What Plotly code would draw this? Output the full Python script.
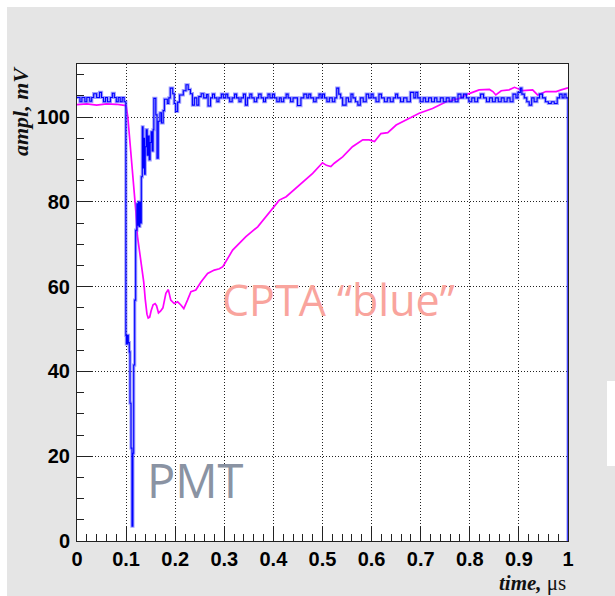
import plotly.graph_objects as go

# ---- CPTA "blue" signal (smooth trace), time in µs, amplitude in mV ----
cpta_t = [0.0, 0.02, 0.04, 0.06, 0.08, 0.100, 0.1035, 0.107, 0.110, 0.1135, 0.117,
          0.120, 0.123, 0.127, 0.131, 0.136, 0.139, 0.1425, 0.145, 0.148, 0.151,
          0.155, 0.159, 0.162, 0.166, 0.170, 0.175, 0.181, 0.186, 0.191, 0.198,
          0.205, 0.212, 0.2175, 0.225, 0.232, 0.242, 0.2525, 0.266, 0.2796, 0.290,
          0.297, 0.317, 0.344, 0.368, 0.388, 0.412, 0.426, 0.449, 0.480, 0.500,
          0.508, 0.517, 0.524, 0.541, 0.561, 0.582, 0.595, 0.606, 0.619, 0.633,
          0.650, 0.677, 0.697, 0.724, 0.752, 0.779, 0.796, 0.819, 0.840, 0.847,
          0.853, 0.864, 0.880, 0.891, 0.908, 0.928, 0.938, 0.955, 0.976, 0.986,
          0.996, 1.0]
cpta_v = [102.9, 103.1, 102.8, 103.1, 103.0, 102.7, 100.0, 95.5, 91.0, 87.0, 82.0,
          77.5, 72.0, 68.5, 65.5, 61.0, 57.0, 53.5, 52.6, 52.8, 54.3,
          55.7, 56.0, 55.5, 53.8, 54.2, 55.0, 58.4, 59.3, 56.8, 56.0,
          56.4, 55.6, 54.8, 56.8, 58.8, 59.2, 61.1, 63.1, 63.9, 64.2,
          64.7, 68.6, 71.8, 74.1, 76.9, 80.4, 81.2, 83.6, 86.7, 89.2,
          88.6, 88.3, 89.1, 90.6, 93.0, 94.6, 94.6, 94.2, 96.1, 96.3,
          98.1, 99.7, 100.9, 102.0, 103.6, 104.4, 105.4, 106.4, 106.5, 106.0,
          105.2, 106.2, 106.4, 107.0, 106.2, 106.4, 105.2, 106.0, 106.0, 106.4,
          106.8, 106.9]

# ---- PMT signal (histogram steps: bin start time, level) ----
pmt_t = [0.0, 0.006, 0.010, 0.016, 0.020, 0.026, 0.030, 0.034, 0.040, 0.046, 0.050,
         0.054, 0.058, 0.062, 0.068, 0.072, 0.076, 0.080, 0.084, 0.088, 0.092, 0.096,
         0.0995, 0.1005, 0.1015, 0.1025, 0.1035, 0.1045, 0.1065, 0.108, 0.110, 0.112,
         0.1138, 0.1155, 0.1175, 0.1195, 0.122, 0.1235, 0.125, 0.1265, 0.128, 0.1295,
         0.131, 0.133, 0.1345, 0.136, 0.1375, 0.139, 0.141, 0.143, 0.145, 0.147,
         0.149, 0.151, 0.153, 0.155, 0.1565, 0.1605, 0.163, 0.1655, 0.169, 0.172,
         0.1755, 0.178, 0.184, 0.187, 0.190, 0.195, 0.198, 0.201, 0.205, 0.209,
         0.2165, 0.222, 0.2265, 0.231, 0.235, 0.239, 0.244, 0.248, 0.253, 0.258,
         0.264, 0.267,
         0.272, 0.276, 0.280, 0.285, 0.289, 0.294, 0.298, 0.303, 0.307, 0.311,
         0.316, 0.321, 0.325, 0.330, 0.334, 0.339, 0.343, 0.347, 0.352, 0.356,
         0.361, 0.366, 0.370, 0.375, 0.380, 0.384, 0.389, 0.393, 0.398, 0.402,
         0.407, 0.412, 0.416, 0.421, 0.426, 0.430, 0.435, 0.440, 0.449, 0.456,
         0.462, 0.468, 0.472, 0.476, 0.482, 0.487, 0.493, 0.497, 0.500, 0.504,
         0.509, 0.514, 0.520, 0.525, 0.529, 0.533, 0.537, 0.541, 0.548, 0.553,
         0.558, 0.562, 0.567, 0.572, 0.577, 0.583, 0.589, 0.594, 0.599, 0.603,
         0.609, 0.615, 0.620, 0.626, 0.632, 0.638, 0.644, 0.649, 0.653, 0.659,
         0.665, 0.672, 0.679, 0.686, 0.690, 0.694, 0.699, 0.705, 0.710, 0.716,
         0.722, 0.728, 0.733, 0.740, 0.746, 0.752, 0.758, 0.764, 0.770, 0.776,
         0.782, 0.787, 0.793, 0.798, 0.804, 0.810, 0.816, 0.822, 0.828, 0.834,
         0.840, 0.846, 0.852, 0.858, 0.864, 0.870, 0.876, 0.882, 0.888, 0.894,
         0.898, 0.903, 0.906, 0.911, 0.916, 0.921, 0.926, 0.931, 0.937, 0.942,
         0.948, 0.954, 0.960, 0.966, 0.972, 0.978, 0.983, 0.988, 0.992, 0.996,
         1.0]
pmt_v = [104.6, 103.6, 104.6, 103.6, 104.6, 103.7, 104.6, 105.5, 104.6, 105.8, 104.6,
         103.6, 104.6, 103.6, 104.6, 105.6, 104.6, 103.6, 104.6, 103.6, 104.6, 103.6,
         48.5, 46.5, 48.5, 46.5, 48.5, 46.8, 44.6, 32.5, 21.9, 3.5,
         20.7, 41.5, 56.8, 73.3, 79.5, 74.5, 80.0, 74.2, 79.8, 75.0,
         85.9, 97.7, 88.0, 95.0, 86.5, 93.0, 97.0, 91.0, 95.5, 89.9,
         94.0, 96.5, 92.0, 97.0, 104.4, 100.5, 90.3, 99.0, 101.0, 98.6,
         101.5, 104.2, 103.2, 104.5, 106.8, 105.5, 103.2, 101.3, 103.5, 105.2,
         106.2, 107.6, 106.5, 105.5, 102.8, 104.5, 102.8, 104.8, 105.5, 104.5,
         105.3, 102.6,
         104.5, 105.4, 104.5, 103.6, 104.5, 105.4, 104.5, 105.4, 104.5, 103.6,
         104.5, 105.4, 104.5, 103.6, 104.5, 105.4, 102.8, 104.5, 105.4, 104.5,
         103.6, 104.5, 105.4, 104.5, 103.6, 104.5, 105.4, 104.5, 105.4, 104.5,
         103.6, 104.5, 103.6, 104.5, 105.4, 104.5, 103.6, 104.5, 102.7, 104.5,
         105.4, 104.5, 105.4, 104.5, 103.6, 104.5, 105.4, 104.5, 105.4, 104.5,
         103.6, 104.5, 103.6, 104.5, 106.8, 105.4, 104.5, 102.8, 104.5, 103.6,
         105.4, 104.5, 103.6, 102.8, 104.5, 103.6, 105.4, 104.5, 105.4, 104.5,
         103.6, 105.4, 104.5, 103.6, 104.5, 103.6, 104.5, 105.4, 104.5, 103.6,
         104.5, 103.6, 105.8, 104.5, 105.8, 104.5, 103.6, 104.5, 103.6, 104.5,
         103.6, 104.5, 103.6, 104.5, 103.6, 104.5, 103.6, 104.5, 103.6, 105.4,
         104.5, 105.4, 104.5, 103.6, 104.5, 103.6, 104.5, 105.4, 104.5, 103.6,
         104.5, 103.6, 104.5, 103.6, 104.5, 103.6, 104.5, 103.6, 105.4, 104.5,
         105.8, 106.8, 105.4, 104.5, 103.6, 102.8, 104.5, 103.6, 104.5, 105.4,
         104.5, 103.6, 103.2, 103.6, 103.2, 104.5, 105.4, 104.5, 105.4, 104.5,
         0.0]

# axis settings
x_range = [0, 1]
y_range = [0, 112.5]
x_tick_step, x_minor_step = 0.1, 0.02
y_tick_step, y_minor_step = 20, 5

# canvas geometry (pixels)
W, H = 615, 596
ML, MR, MT, MB = 77, 47, 64, 55
PW, PH = W - ML - MR, H - MT - MB


def px(xp):
    return (xp - ML) / PW


def py(yp):
    return (H - MB - yp) / PH


fig = go.Figure()

fig.add_trace(go.Scatter(
    x=cpta_t, y=cpta_v, mode="lines",
    line=dict(color="#ff00ff", width=1.7),
    hoverinfo="skip", showlegend=False))

# PMT drawn as a histogram: soft halo plus a sharp core
fig.add_trace(go.Scatter(
    x=pmt_t, y=pmt_v, mode="lines",
    line=dict(color="rgba(80,80,255,0.55)", width=3.2, shape="hv"),
    hoverinfo="skip", showlegend=False))
fig.add_trace(go.Scatter(
    x=pmt_t, y=pmt_v, mode="lines",
    line=dict(color="#0000ff", width=1.1, shape="hv"),
    hoverinfo="skip", showlegend=False))

tick_font = dict(family="Liberation Sans", size=20, color="black", weight="bold")
grid_dash = "1px,2px"

fig.update_xaxes(
    range=x_range, dtick=x_tick_step, tick0=0,
    ticks="inside", ticklen=15, tickwidth=1, tickcolor="#222",
    minor=dict(dtick=x_minor_step, ticks="inside", ticklen=7, tickcolor="#222",
               showgrid=False),
    showgrid=True, gridcolor="#222", griddash=grid_dash, gridwidth=1,
    showline=True, linecolor="#222", linewidth=1, mirror=True,
    zeroline=False, tickfont=tick_font, ticklabelstandoff=0,
)
fig.update_yaxes(
    range=y_range, dtick=y_tick_step, tick0=0,
    ticks="inside", ticklen=15, tickwidth=1, tickcolor="#222",
    minor=dict(dtick=y_minor_step, ticks="inside", ticklen=7, tickcolor="#222",
               showgrid=False),
    showgrid=True, gridcolor="#222", griddash=grid_dash, gridwidth=1,
    showline=True, linecolor="#222", linewidth=1, mirror=True,
    zeroline=False, tickfont=tick_font, ticklabelstandoff=2,
)

annotations = [
    dict(text="<b><i>ampl, mV</i></b>", textangle=-90,
         x=px(20), y=py(64), xanchor="center", yanchor="top",
         font=dict(family="Liberation Serif", size=22, color="#111")),
    dict(text="<b><i>time,</i></b> μs",
         x=px(568), y=py(583), xanchor="right", yanchor="middle",
         font=dict(family="Liberation Serif", size=21, color="#111")),
    dict(text="CPTA “blue”",
         x=px(220), y=py(299), xanchor="left", yanchor="middle",
         font=dict(family="Open Sans", size=43, color="#f9a49d")),
    dict(text="PMT",
         x=px(145), y=py(480), xanchor="left", yanchor="middle",
         font=dict(family="Open Sans", size=47, color="#8a93a3")),
]
for a in annotations:
    a.update(xref="paper", yref="paper", showarrow=False)

# white borders of the grey panel
shapes = [
    dict(type="rect", x0=px(0), x1=px(W), y0=py(0), y1=py(7)),
    dict(type="rect", x0=px(0), x1=px(7), y0=py(0), y1=py(H)),
    dict(type="rect", x0=px(607), x1=px(W), y0=py(381), y1=py(466)),
]
for s in shapes:
    s.update(xref="paper", yref="paper", fillcolor="white", line_width=0,
             layer="below")

fig.update_layout(
    width=W, height=H,
    margin=dict(l=ML, r=MR, t=MT, b=MB),
    paper_bgcolor="#e5e5e5", plot_bgcolor="white",
    annotations=annotations, shapes=shapes,
)

fig.write_html("out.html")
